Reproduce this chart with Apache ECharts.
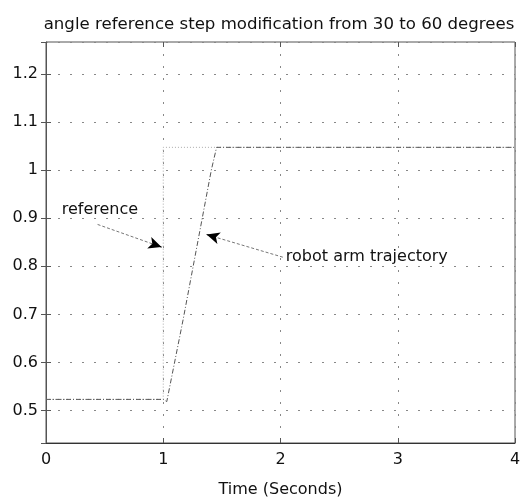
<!DOCTYPE html>
<html>
<head>
<meta charset="utf-8">
<script src="https://cdn.jsdelivr.net/npm/echarts@6/dist/echarts.min.js"></script>
<style>
html, body { margin: 0; padding: 0; background: #fff; }
#chart { width: 532px; height: 503px; }
</style>
</head>
<body>
<div id="chart"></div>
<script>
// step reference: 30 deg -> 60 deg (radians) at t = 1 s
var referenceT = [0, 1, 1, 4];
var referenceV = [0.5236, 0.5236, 1.0472, 1.0472];

var armT = [0, 1, 1.03, 1.17, 1.41, 1.455, 4];
var armV = [0.5236, 0.5236, 0.519, 0.69, 1.0, 1.0472, 1.0472];

// annotation labels and arrows (data units)
var labelText = ['reference', 'robot arm trajectory'];
var labelT = [0.46, 2.02];
var labelV = [0.917, 0.819];
var arrowFrom = [[0.44, 0.887], [2.02, 0.819]];
var arrowTo = [[0.985, 0.840], [1.37, 0.866]];

var FONT = 'DejaVu Sans';

function zip(xs, ys) {
	return xs.map(function(x, i) { return [x, ys[i]]; });
}

// short segment just before the tip, used to draw a black arrow head
function headStart(f, t) {
	var k = 0.08;
	return [t[0] + (f[0] - t[0]) * k, t[1] + (f[1] - t[1]) * k];
}

var gridDash = { color: '#888', type: [2, 10], width: 1 };

var myChart = echarts.init(document.getElementById('chart'));

var option = {
	backgroundColor: '#fff',
	animation: false,
	title: {
		text: 'angle reference step modification from 30 to 60 degrees',
		left: 274,
		top: 11,
		textAlign: 'center',
		textStyle: { fontFamily: FONT, fontSize: 16.6, fontWeight: 'normal', color: '#111' }
	},
	grid: {
		left: 46, right: 17, top: 42, bottom: 60,
		show: true, borderColor: '#555', borderWidth: 1
	},
	xAxis: [
		{
			type: 'value', min: 0, max: 4, interval: 1,
			name: 'Time (Seconds)', nameLocation: 'middle', nameGap: 39,
			nameTextStyle: { fontFamily: FONT, fontSize: 16, color: '#111' },
			axisLine: { show: true, onZero: false, lineStyle: { color: '#333' } },
			axisTick: { show: true, inside: true, length: 5, lineStyle: { color: '#555' } },
			axisLabel: { fontFamily: FONT, fontSize: 16, color: '#111', margin: 9 },
			splitLine: { show: true, lineStyle: gridDash }
		},
		{
			type: 'value', min: 0, max: 4, interval: 1, position: 'top',
			axisLine: { show: false },
			axisTick: { show: true, inside: true, length: 5, lineStyle: { color: '#555' } },
			axisLabel: { show: false }, splitLine: { show: false }
		}
	],
	yAxis: [
		{
			type: 'value', min: 0.433, max: 1.266, splitNumber: 8,
			axisLine: { show: true, onZero: false, lineStyle: { color: '#555' } },
			axisTick: { show: true, inside: true, length: 5, lineStyle: { color: '#555' } },
			axisLabel: {
				fontFamily: FONT, fontSize: 16, color: '#111', margin: 8,
				showMinLabel: false, showMaxLabel: false,
				formatter: function(v) { return String(+v.toFixed(1)); }
			},
			splitLine: { show: true, lineStyle: gridDash }
		},
		{
			type: 'value', min: 0.433, max: 1.266, splitNumber: 8, position: 'right',
			axisLine: { show: false },
			axisTick: { show: true, inside: true, length: 5, lineStyle: { color: '#555' } },
			axisLabel: { show: false }, splitLine: { show: false }
		}
	],
	series: [
		{
			name: 'reference',
			type: 'line',
			data: zip(referenceT, referenceV),
			showSymbol: false,
			lineStyle: { color: '#aaa', width: 1, type: [1, 2] },
			z: 3
		},
		{
			name: 'robot arm trajectory',
			type: 'line',
			data: zip(armT, armV),
			showSymbol: false,
			lineStyle: { color: '#555', width: 1, type: [5, 2, 1, 2] },
			z: 4
		},
		{
			name: 'annotations',
			type: 'scatter',
			data: zip(labelT, labelV).map(function(p, i) {
				return {
					value: p,
					label: { formatter: labelText[i], position: i === 0 ? 'inside' : 'right', distance: 3, color: '#111' }
				};
			}),
			symbolSize: 0,
			itemStyle: { opacity: 1 },
			label: { show: true, fontFamily: FONT, fontSize: 16, color: '#111' },
			markLine: {
				silent: true,
				symbol: ['none', 'none'],
				label: { show: false },
				lineStyle: { color: '#777', width: 1, type: [3, 2] },
				data: arrowFrom.map(function(f, i) {
					return [{ coord: f }, { coord: arrowTo[i] }];
				})
			},
			z: 5
		},
		{
			name: 'arrow heads',
			type: 'scatter',
			data: [],
			markLine: {
				silent: true,
				symbol: ['none', 'arrow'],
				symbolSize: [9, 13],
				label: { show: false },
				lineStyle: { color: '#000', width: 1, type: 'solid' },
				data: arrowFrom.map(function(f, i) {
					return [{ coord: headStart(f, arrowTo[i]) }, { coord: arrowTo[i] }];
				})
			},
			z: 6
		}
	]
};
myChart.setOption(option);
</script>
</body>
</html>
